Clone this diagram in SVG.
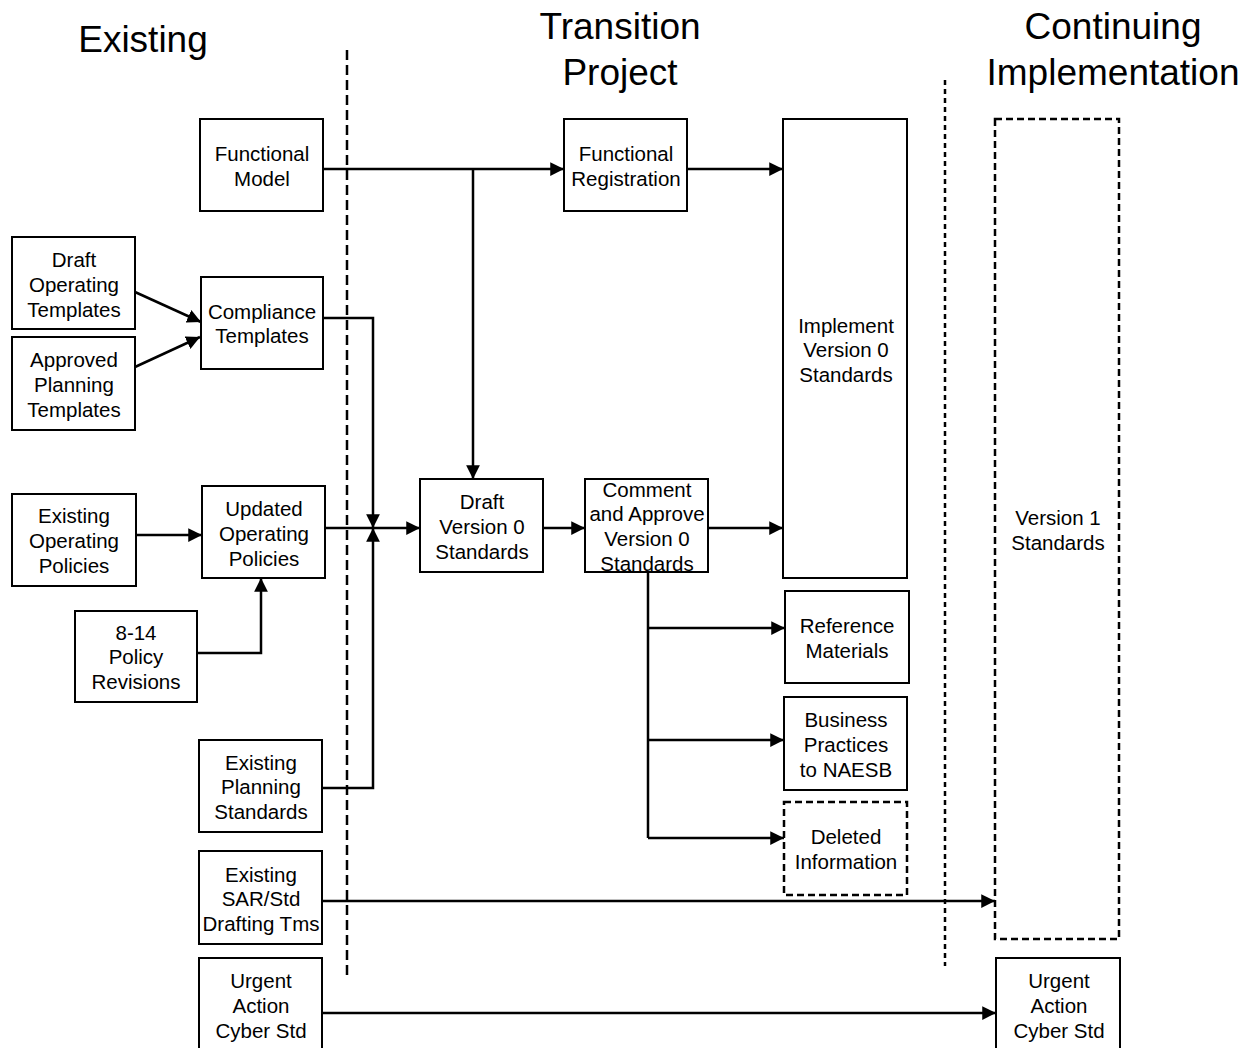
<svg xmlns="http://www.w3.org/2000/svg" width="1252" height="1048" viewBox="0 0 1252 1048">
<defs>
<marker id="ah" viewBox="0 0 10 10" refX="10" refY="5" markerWidth="5.5" markerHeight="5.5" orient="auto" markerUnits="strokeWidth"><path d="M0,0 L10,5 L0,10 z" fill="#000"/></marker>
<style>
.b{fill:#fff;stroke:#000;stroke-width:2}
.d{fill:#fff;stroke:#000;stroke-width:2.5;stroke-dasharray:7,4}
.t{font-family:"Liberation Sans",Arial,sans-serif;font-size:20.5px;text-anchor:middle;fill:#000}
.h{font-family:"Liberation Sans",Arial,sans-serif;font-size:37px;text-anchor:middle;fill:#000}
.c{fill:none;stroke:#000;stroke-width:2.5}
.ca{fill:none;stroke:#000;stroke-width:2.5;marker-end:url(#ah)}
</style>
</defs>
<rect width="1252" height="1048" fill="#fff"/>
<g id="titles">
<text class="h" x="143" y="52">Existing</text>
<text class="h" x="620" y="39">Transition</text>
<text class="h" x="620" y="85">Project</text>
<text class="h" x="1113" y="39">Continuing</text>
<text class="h" x="1113" y="85">Implementation</text>
</g>
<g id="dividers">
<line x1="347" y1="50" x2="347" y2="978" stroke="#000" stroke-width="2.5" stroke-dasharray="10,5"/>
<line x1="945" y1="80" x2="945" y2="966" stroke="#000" stroke-width="2.5" stroke-dasharray="5,4"/>
</g>
<g id="connectors">
<path class="ca" d="M323,169 H564"/>
<path class="ca" d="M473,169 V479"/>
<path class="ca" d="M687,169 H783"/>
<path class="ca" d="M135,292 L201,322"/>
<path class="ca" d="M135,367 L200,337"/>
<path class="ca" d="M323,318 H373 V528"/>
<path class="ca" d="M322,788 H373 V528"/>
<path class="ca" d="M325,528 H420"/>
<path class="ca" d="M136,535 H202"/>
<path class="ca" d="M197,653 H261 V578"/>
<path class="ca" d="M543,528 H585"/>
<path class="ca" d="M708,528 H783"/>
<path class="c" d="M648,572 V838"/>
<path class="ca" d="M648,628 H785"/>
<path class="ca" d="M648,740 H784"/>
<path class="ca" d="M648,838 H784"/>
<path class="ca" d="M322,901 H995"/>
<path class="ca" d="M322,1013 H996"/>
</g>
<g id="functional-model"><rect class="b" x="200" y="119" width="123" height="92"/><text class="t" x="262" y="161">Functional</text><text class="t" x="262" y="186">Model</text></g>
<g id="functional-registration"><rect class="b" x="564" y="119" width="123" height="92"/><text class="t" x="626" y="161">Functional</text><text class="t" x="626" y="186">Registration</text></g>
<g id="implement-v0"><rect class="b" x="783" y="119" width="124" height="459"/><text class="t" x="846" y="333">Implement</text><text class="t" x="846" y="357">Version 0</text><text class="t" x="846" y="382">Standards</text></g>
<g id="draft-operating-templates"><rect class="b" x="12" y="237" width="123" height="92"/><text class="t" x="74" y="267">Draft</text><text class="t" x="74" y="292">Operating</text><text class="t" x="74" y="317">Templates</text></g>
<g id="compliance-templates"><rect class="b" x="201" y="277" width="122" height="92"/><text class="t" x="262" y="319">Compliance</text><text class="t" x="262" y="343">Templates</text></g>
<g id="approved-planning-templates"><rect class="b" x="12" y="337" width="123" height="93"/><text class="t" x="74" y="367">Approved</text><text class="t" x="74" y="392">Planning</text><text class="t" x="74" y="417">Templates</text></g>
<g id="existing-operating-policies"><rect class="b" x="12" y="494" width="124" height="92"/><text class="t" x="74" y="523">Existing</text><text class="t" x="74" y="548">Operating</text><text class="t" x="74" y="573">Policies</text></g>
<g id="updated-operating-policies"><rect class="b" x="202" y="486" width="123" height="92"/><text class="t" x="264" y="516">Updated</text><text class="t" x="264" y="541">Operating</text><text class="t" x="264" y="566">Policies</text></g>
<g id="policy-revisions"><rect class="b" x="75" y="611" width="122" height="91"/><text class="t" x="136" y="640">8-14</text><text class="t" x="136" y="664">Policy</text><text class="t" x="136" y="689">Revisions</text></g>
<g id="draft-v0"><rect class="b" x="420" y="479" width="123" height="93"/><text class="t" x="482" y="509">Draft</text><text class="t" x="482" y="534">Version 0</text><text class="t" x="482" y="559">Standards</text></g>
<g id="comment-approve"><rect class="b" x="585" y="479" width="123" height="93"/><text class="t" x="647" y="497">Comment</text><text class="t" x="647" y="521">and Approve</text><text class="t" x="647" y="546">Version 0</text><text class="t" x="647" y="571">Standards</text></g>
<g id="reference-materials"><rect class="b" x="785" y="591" width="124" height="92"/><text class="t" x="847" y="633">Reference</text><text class="t" x="847" y="658">Materials</text></g>
<g id="business-practices"><rect class="b" x="784" y="697" width="123" height="93"/><text class="t" x="846" y="727">Business</text><text class="t" x="846" y="752">Practices</text><text class="t" x="846" y="777">to NAESB</text></g>
<g id="deleted-information"><rect class="d" x="784" y="802" width="123" height="93"/><text class="t" x="846" y="844">Deleted</text><text class="t" x="846" y="869">Information</text></g>
<g id="existing-planning-standards"><rect class="b" x="199" y="740" width="123" height="92"/><text class="t" x="261" y="770">Existing</text><text class="t" x="261" y="794">Planning</text><text class="t" x="261" y="819">Standards</text></g>
<g id="existing-sar"><rect class="b" x="199" y="851" width="123" height="93"/><text class="t" x="261" y="882">Existing</text><text class="t" x="261" y="906">SAR/Std</text><text class="t" x="261" y="931">Drafting Tms</text></g>
<g id="urgent-left"><rect class="b" x="199" y="958" width="123" height="95"/><text class="t" x="261" y="988">Urgent</text><text class="t" x="261" y="1013">Action</text><text class="t" x="261" y="1038">Cyber Std</text></g>
<g id="version1"><rect class="d" x="995" y="119" width="124" height="820"/><text class="t" x="1058" y="525">Version 1</text><text class="t" x="1058" y="550">Standards</text></g>
<g id="urgent-right"><rect class="b" x="996" y="958" width="124" height="95"/><text class="t" x="1059" y="988">Urgent</text><text class="t" x="1059" y="1013">Action</text><text class="t" x="1059" y="1038">Cyber Std</text></g>
</svg>
